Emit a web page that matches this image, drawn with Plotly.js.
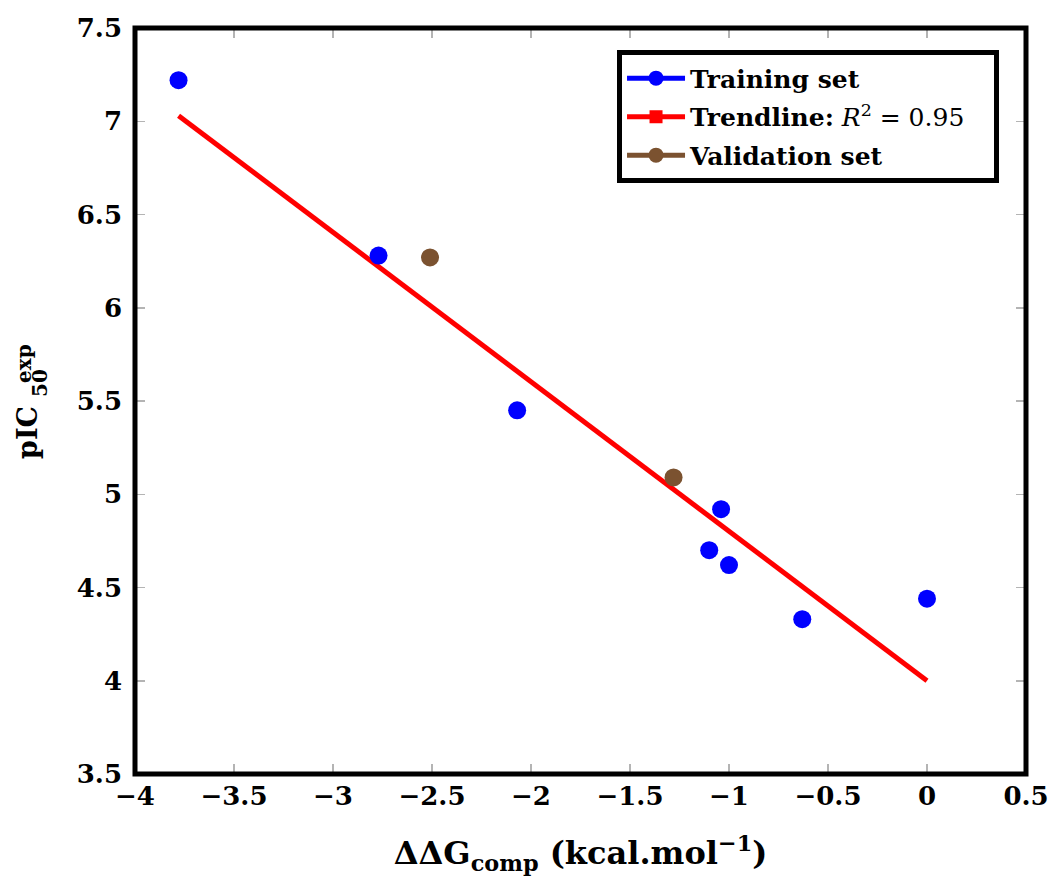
<!DOCTYPE html>
<html>
<head>
<meta charset="utf-8">
<script src="https://cdn.plot.ly/plotly-3.0.1.min.js"></script>
<style>html,body{margin:0;padding:0;background:#fff;}#chart{width:1052px;height:876px;}</style>
</head>
<body>
<div id="chart"></div>
<script>
// Data
const trainingX = [-3.78, -2.77, -2.07, -1.10, -1.04, -1.00, -0.63, 0.00];
const trainingY = [7.22, 6.28, 5.45, 4.70, 4.92, 4.62, 4.33, 4.44];
const validationX = [-2.51, -1.28];
const validationY = [6.27, 5.09];
const trendX = [-3.78, 0.00];
const trendY = [7.03, 4.00];
const xTicks = [-4, -3.5, -3, -2.5, -2, -1.5, -1, -0.5, 0, 0.5];
const yTicks = [3.5, 4, 4.5, 5, 5.5, 6, 6.5, 7, 7.5];

const BLUE = '#0000ff', RED = '#ff0000', BROWN = '#7b5230';
const FONT = 'DejaVu Serif';

const traces = [
  {x: trendX, y: trendY, mode: 'lines', line: {color: RED, width: 5}, showlegend: false, hoverinfo: 'skip'},
  {x: trainingX, y: trainingY, mode: 'markers', marker: {color: BLUE, size: 18}, showlegend: false},
  {x: validationX, y: validationY, mode: 'markers', marker: {color: BROWN, size: 18}, showlegend: false},
  // legend entries
  {x: [null], y: [null], mode: 'lines+markers', name: '<b>Training set</b>', legendgroup: 'a',
   line: {color: BLUE, width: 5}, marker: {color: BLUE, size: 15, symbol: 'circle'}},
  {x: [null], y: [null], mode: 'lines+markers', name: '<b>Trendline:</b> <i>R</i><sup>2</sup> = 0.95\u00a0\u00a0\u00a0', legendgroup: 'b',
   line: {color: RED, width: 5}, marker: {color: RED, size: 13, symbol: 'square'}},
  {x: [null], y: [null], mode: 'lines+markers', name: '<b>Validation set</b>', legendgroup: 'c',
   line: {color: BROWN, width: 5}, marker: {color: BROWN, size: 15, symbol: 'circle'}}
];

const axisCommon = {
  showgrid: false, zeroline: false, showline: false,
  ticks: 'inside', ticklen: 10, tickwidth: 1.5, tickcolor: '#b4b4b4', mirror: 'ticks',
  tickfont: {family: FONT, size: 26, color: '#000', weight: 'bold'},
  tickmode: 'array'
};

const layout = {
  width: 1052, height: 876,
  margin: {l: 135, r: 26, t: 28, b: 102},
  paper_bgcolor: '#fff', plot_bgcolor: '#fff',
  font: {family: FONT, color: '#000'},
  showlegend: true,
  xaxis: Object.assign({}, axisCommon, {
    range: [-4, 0.5], tickvals: xTicks, ticklabelstandoff: 4,
    title: {text: '<b>ΔΔG<sub>comp</sub> (kcal.mol<sup>−1</sup>)</b>', font: {family: FONT, size: 32, color: '#000'}, standoff: 32}
  }),
  yaxis: Object.assign({}, axisCommon, {
    range: [3.5, 7.5], tickvals: yTicks, ticklabelstandoff: 12
  }),
  legend: {
    x: 0.541, y: 0.97, xanchor: 'left', yanchor: 'top',
    bgcolor: '#fff', bordercolor: '#000', borderwidth: 5,
    font: {family: FONT, size: 25, color: '#000'},
    tracegroupgap: 3, itemwidth: 58
  },
  shapes: [{type: 'rect', xref: 'paper', yref: 'paper', x0: 0, x1: 1, y0: 0, y1: 1,
            line: {color: '#000', width: 5}, layer: 'above'}],
  annotations: [
    {xref: 'paper', yref: 'paper', x: 0, y: 0.5, xshift: -108, yshift: -32, textangle: -90,
     text: '<b>pIC</b>', showarrow: false, font: {family: FONT, size: 27, color: '#000'}, xanchor: 'center', yanchor: 'middle'},
    {xref: 'paper', yref: 'paper', x: 0, y: 0.5, xshift: -111, yshift: 37, textangle: -90,
     text: '<b>exp</b>', showarrow: false, font: {family: FONT, size: 20, color: '#000'}, xanchor: 'center', yanchor: 'middle'},
    {xref: 'paper', yref: 'paper', x: 0, y: 0.5, xshift: -95, yshift: 18, textangle: -90,
     text: '<b>50</b>', showarrow: false, font: {family: FONT, size: 20, color: '#000'}, xanchor: 'center', yanchor: 'middle'}
  ]
};

Plotly.newPlot('chart', traces, layout, {displayModeBar: false, staticPlot: true});
</script>
</body>
</html>
